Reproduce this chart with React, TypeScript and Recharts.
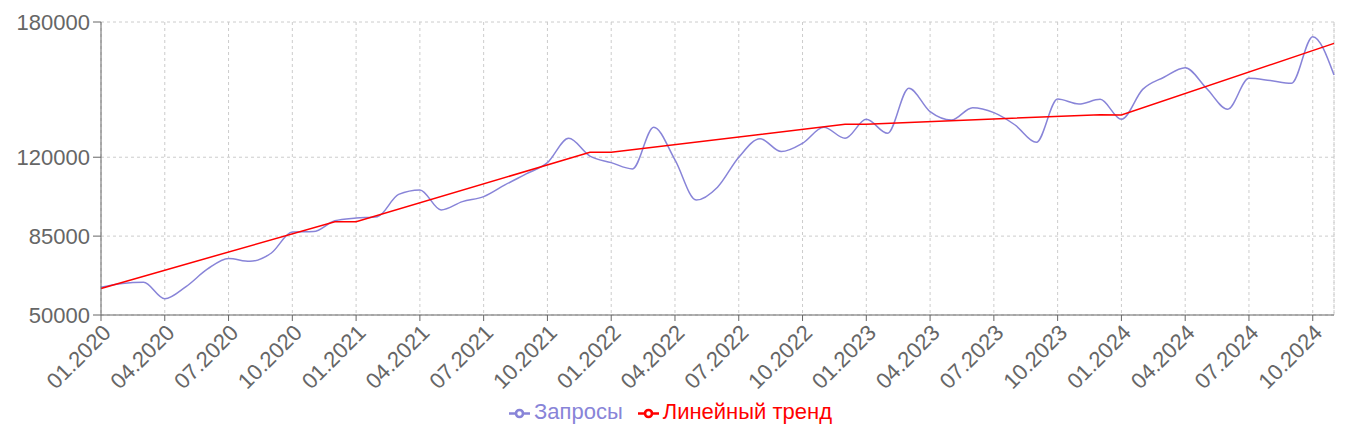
import React from 'react';
import { LineChart, Line, XAxis, YAxis, CartesianGrid, Legend, ReferenceLine } from 'recharts';

// month labels (MM.YYYY), one point per month
const months = [
  '01.2020', '02.2020', '03.2020', '04.2020', '05.2020', '06.2020', '07.2020', '08.2020', '09.2020', '10.2020', '11.2020', '12.2020',
  '01.2021', '02.2021', '03.2021', '04.2021', '05.2021', '06.2021', '07.2021', '08.2021', '09.2021', '10.2021', '11.2021', '12.2021',
  '01.2022', '02.2022', '03.2022', '04.2022', '05.2022', '06.2022', '07.2022', '08.2022', '09.2022', '10.2022', '11.2022', '12.2022',
  '01.2023', '02.2023', '03.2023', '04.2023', '05.2023', '06.2023', '07.2023', '08.2023', '09.2023', '10.2023', '11.2023', '12.2023',
  '01.2024', '02.2024', '03.2024', '04.2024', '05.2024', '06.2024', '07.2024', '08.2024', '09.2024', '10.2024', '11.2024',
];

const requests = [
  62300, 64000, 64500, 57200, 62600, 70300, 75100, 73800, 77400, 86800, 87000, 91800,
  93000, 93600, 103500, 105500, 96600, 100300, 102500, 107700, 112600, 117600, 128400, 120500,
  117600, 114800, 133300, 118800, 101000, 106700, 120000, 128200, 122500, 126200, 133300, 128400,
  136800, 130600, 150600, 140200, 136500, 142000, 139800, 134300, 126600, 145800, 143600, 145700,
  136800, 150100, 155500, 159700, 150600, 141300, 155000, 154000, 152800, 173500, 156500,
];

// yearly linear trend, only the break points are given
const trend: (number | null)[] = [
  61800, null, null, null, null, null, null, null, null, null, null, 91400,
  91400, null, null, null, null, null, null, null, null, null, null, 122200,
  122200, null, null, null, null, null, null, null, null, null, null, 134600,
  134600, null, null, null, null, null, null, null, null, null, null, 138900,
  138700, null, null, null, null, null, null, null, null, null, 170500,
];

const yTicks = [50000, 85000, 120000, 180000];

const data = months.map((m, i) => ({ month: m, requests: requests[i], trend: trend[i] }));

const legendText = (value: string, entry: any) => (
  <span style={{ color: entry.color, marginRight: 5 }}>{value}</span>
);

export default function App() {
  return (
    <div style={{ fontFamily: '"Liberation Sans", Arial, sans-serif' }}>
      <LineChart width={1345} height={428} data={data} margin={{ top: 14, right: 19, bottom: 7, left: 0 }}>
        <CartesianGrid stroke="#ccc" strokeDasharray="3 3" />
        <ReferenceLine x="11.2024" stroke="#ccc" strokeDasharray="3 3" />
        <XAxis
          dataKey="month"
          interval={2}
          angle={-45}
          textAnchor="end"
          height={84}
          tickSize={6}
          stroke="#666"
          tick={{ fontSize: 22, fill: '#666' }}
        />
        <YAxis
          width={93}
          domain={[50000, 180000]}
          ticks={yTicks}
          tickSize={8}
          tickMargin={3}
          stroke="#666"
          tick={{ fontSize: 22, fill: '#666' }}
        />
        <Legend
          verticalAlign="bottom"
          height={30}
          iconSize={21}
          formatter={legendText}
          wrapperStyle={{ fontSize: 22, left: 7 }}
        />
        <Line type="monotone" dataKey="requests" name="Запросы" stroke="#8884d8" strokeWidth={1.5} dot={false} isAnimationActive={false} />
        <Line type="linear" dataKey="trend" name="Линейный тренд" stroke="red" strokeWidth={1.5} dot={false} connectNulls isAnimationActive={false} />
      </LineChart>
    </div>
  );
}
